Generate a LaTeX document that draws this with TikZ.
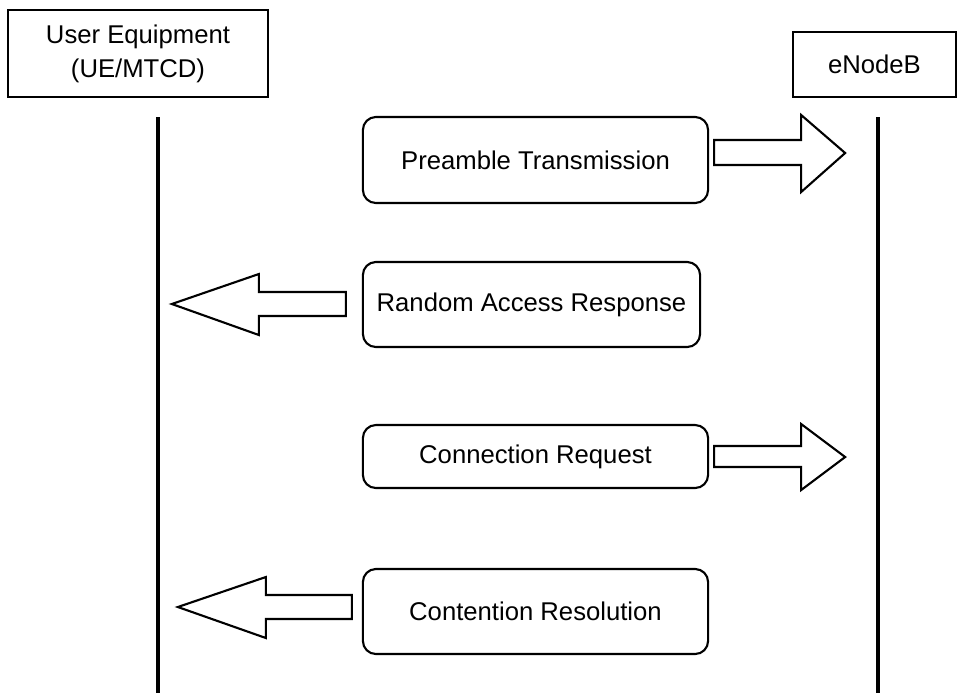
\documentclass[tikz,border=0pt]{standalone}
\usepackage{fontspec}
\setmainfont{Liberation Sans}
\begin{document}
\begin{tikzpicture}[x=0.01cm,y=-0.01cm,line join=miter,
	font=\fontsize{7.3}{9.7}\selectfont,
	headbox/.style={draw,line width=0.6pt,inner sep=0pt,align=center},
	msgbox/.style={draw,line width=0.6pt,rounded corners=0.13cm,inner sep=0pt},
	lifeline/.style={line width=1.15pt},
	blockarrow/.style={draw,line width=0.6pt,line join=miter}]
	\useasboundingbox (0,0) rectangle (957,693);
	% header boxes
	\node[headbox,minimum width=2.6cm,minimum height=0.87cm] (ue) at (138,53.5) {User Equipment\\(UE/MTCD)};
	\node[headbox,minimum width=1.63cm,minimum height=0.65cm] (enb) at (874.5,64.5) {eNodeB};
	% lifelines
	\coordinate (uetop) at (158,117);
	\coordinate (uebot) at (158,693);
	\coordinate (enbtop) at (878,117);
	\coordinate (enbbot) at (878,693);
	\draw[lifeline] (uetop)--(uebot);
	\draw[lifeline] (enbtop)--(enbbot);
	% message boxes
	\node[msgbox,minimum width=3.45cm,minimum height=0.86cm] (pre) at (535.5,160) {Preamble Transmission};
	\node[msgbox,minimum width=3.37cm,minimum height=0.85cm] (rar) at (531.5,304.5) {Random Access Response};
	\node[msgbox,minimum width=3.45cm,minimum height=0.63cm] (req) at (535.5,456.5) {Connection Request};
	\node[msgbox,minimum width=3.45cm,minimum height=0.85cm] (res) at (535.5,611.5) {Contention Resolution};
	% block arrows
	\draw[blockarrow] ([shift={(5,-20)}]pre.east)--++(87,0)--++(0,-25)--++(44,38)--++(-44,39)--++(0,-27)--++(-87,0)--cycle;
	\draw[blockarrow] ([shift={(-16,-12.5)}]rar.west)--++(-87,0)--++(0,-18)--++(-87,30)--++(87,31)--++(0,-19)--++(87,0)--cycle;
	\draw[blockarrow] ([shift={(5,-10.5)}]req.east)--++(87,0)--++(0,-22)--++(44,33)--++(-44,33)--++(0,-23)--++(-87,0)--cycle;
	\draw[blockarrow] ([shift={(-10,-16.5)}]res.west)--++(-86,0)--++(0,-18)--++(-88,30)--++(88,31)--++(0,-19)--++(86,0)--cycle;
\end{tikzpicture}
\end{document}
